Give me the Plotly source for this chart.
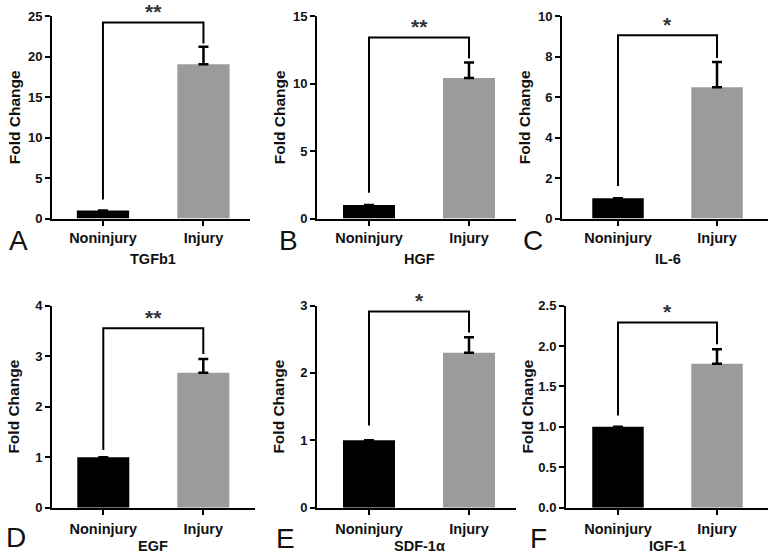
import plotly.graph_objects as go

# ---------------- data ----------------
genes = ["TGFb1", "HGF", "IL-6", "EGF", "SDF-1α", "IGF-1"]
letters = ["A", "B", "C", "D", "E", "F"]
categories = ["Noninjury", "Injury"]
noninjury = [1.0, 1.0, 1.0, 1.0, 1.0, 1.0]
injury = [19.05, 10.4, 6.48, 2.67, 2.30, 1.78]
injury_err = [2.15, 1.15, 1.25, 0.27, 0.23, 0.18]
y_max = [25, 15, 10, 4, 3, 2.5]
y_dtick = [5, 5, 2, 1, 1, 0.5]
y_format = ["d", "d", "d", "d", "d", ".1f"]
bracket_y = [24.2, 13.4, 9.05, 3.55, 2.91, 2.29]
bracket_left_bottom = [2.35, 1.9, 1.6, 1.14, 1.22, 1.14]
bracket_right_bottom = [21.6, 11.85, 7.93, 3.04, 2.6, 2.02]
stars = ["**", "**", "*", "**", "*", "*"]

# ---------------- layout geometry (pixels) ----------------
W, H = 771, 554
x_px = [(52, 250), (317, 516), (562, 768), (52, 255), (317, 516), (566, 768)]
x_rng = [(-0.507, 1.463), (-0.52, 1.47), (-0.566, 1.515),
         (-0.513, 1.517), (-0.52, 1.47), (-0.525, 1.515)]
y_px = [(16, 218.5)] * 3 + [(305.5, 507.7)] * 3
letter_pos = [(18, 240), (288, 240), (533, 241), (16, 537), (285, 538), (538, 538)]

BLACK = "#000000"
GRAY = "#9b9b9b"
FONT = "Liberation Sans"

fig = go.Figure()
layout = dict(width=W, height=H, margin=dict(l=0, r=0, t=0, b=0, autoexpand=False),
              paper_bgcolor="white", plot_bgcolor="white", showlegend=False)
annotations = []

for i in range(6):
    sfx = "" if i == 0 else str(i + 1)
    xa, ya = "x" + sfx, "y" + sfx

    fig.add_trace(go.Bar(
        x=[0, 1], y=[noninjury[i], injury[i]], width=0.52,
        marker=dict(color=[BLACK, GRAY], line=dict(width=0)),
        error_y=dict(type="data", symmetric=False, array=[0, injury_err[i]],
                     arrayminus=[0, 0], color=BLACK, thickness=2.5, width=5),
        xaxis=xa, yaxis=ya, hoverinfo="skip"))

    fig.add_trace(go.Scatter(
        x=[0, 0, 1, 1],
        y=[bracket_left_bottom[i], bracket_y[i], bracket_y[i], bracket_right_bottom[i]],
        mode="lines", line=dict(color=BLACK, width=2),
        xaxis=xa, yaxis=ya, hoverinfo="skip"))

    x0, x1 = x_px[i]
    yt, yb = y_px[i]
    layout["xaxis" + sfx] = dict(
        domain=[x0 / W, x1 / W], range=list(x_rng[i]), anchor=ya, automargin=False,
        tickvals=[0, 1], ticktext=categories, ticks="outside", ticklen=5,
        tickwidth=2, tickcolor=BLACK, showline=True, linewidth=2,
        linecolor=BLACK, showgrid=False, zeroline=False,
        ticklabelstandoff=(0 if i < 3 else 2),
        tickfont=dict(family=FONT, size=14.5, color="#111", weight="bold"))
    layout["yaxis" + sfx] = dict(
        domain=[(H - yb) / H, (H - yt) / H], range=[0, y_max[i]], anchor=xa,
        automargin=False,
        tick0=0, dtick=y_dtick[i], tickformat=y_format[i], ticks="outside",
        ticklen=5, tickwidth=1.5, tickcolor=BLACK, showline=True, linewidth=2,
        linecolor=BLACK, showgrid=False, zeroline=False,
        tickfont=dict(family=FONT, size=13, color="#111", weight="bold"))

    # y-axis title
    annotations.append(dict(
        text="Fold Change", textangle=-90, xref=xa + " domain", x=0, xshift=-38,
        yref=ya + " domain", y=0.5, xanchor="center", yanchor="middle",
        showarrow=False, font=dict(family=FONT, size=15.5, color="#111", weight="bold")))
    # x title (gene)
    annotations.append(dict(
        text=genes[i], xref=xa, x=0.5, yref=ya + " domain", y=0,
        yshift=(-40 if i < 3 else -38),
        xanchor="center", yanchor="middle", showarrow=False,
        font=dict(family=FONT, size=14.5, color="#111", weight="bold")))
    # significance stars
    annotations.append(dict(
        text=stars[i], xref=xa, x=0.5, yref=ya, y=bracket_y[i], yshift=11,
        xanchor="center", yanchor="middle", showarrow=False,
        font=dict(family=FONT, size=21, color="#333", weight="bold")))
    # panel letter
    lx, ly = letter_pos[i]
    annotations.append(dict(
        text=letters[i], xref="paper", x=lx / W, yref="paper", y=(H - ly) / H,
        xanchor="center", yanchor="middle", showarrow=False,
        font=dict(family=FONT, size=28, color="#111")))

layout["annotations"] = annotations
fig.update_layout(**layout)
fig.write_html("out.html", config={"displayModeBar": False},
               post_script="document.body.style.margin='0';"
                           "document.body.style.overflow='hidden';")
